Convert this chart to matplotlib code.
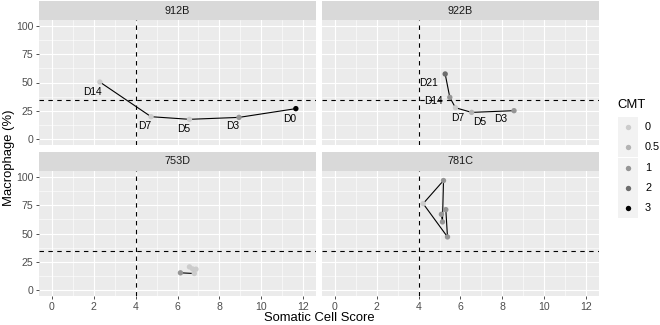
import matplotlib
matplotlib.use("Agg")
import matplotlib.pyplot as plt
from matplotlib.patches import Rectangle

plt.rcParams['font.family'] = ['Liberation Sans', 'DejaVu Sans']

# ---- data ----
cows = ["912B", "922B", "753D", "781C"]

scs_912B = [2.30, 4.74, 6.57, 8.93, 11.64]
mac_912B = [50.4, 19.9, 17.6, 19.3, 27.0]
cmt_912B = [0, 0, 0, 1, 3]
day_912B = ["D14", "D7", "D5", "D3", "D0"]

scs_922B = [5.27, 5.49, 5.76, 6.53, 8.55]
mac_922B = [57.5, 36.9, 27.8, 23.7, 25.2]
cmt_922B = [2, 1, 0, 0.5, 1]
day_922B = ["D21", "D14", "D7", "D5", "D3"]

scs_753D = [6.14, 6.80, 6.72, 6.57, 6.88]
mac_753D = [15.4, 14.8, 18.8, 20.6, 18.6]
cmt_753D = [1, 0, 0, 0, 0]

scs_781C = [5.09, 5.14, 5.19, 4.22, 5.38, 5.30]
mac_781C = [66.9, 60.2, 96.6, 76.3, 47.0, 71.0]
cmt_781C = [1, 1, 1, 0, 1, 1]

cmt_levels = [0, 0.5, 1, 2, 3]
cmt_labels = ["0", "0.5", "1", "2", "3"]

scs_cut = 4
mac_cut = 35

# label nudges in pixels (dx, dy down), ggrepel-ish placement
nudge_912B = [(-7, 10), (-6, 9), (-6, 10), (-6, 9), (-6, 10)]
nudge_922B = [(-17, 9), (-16, 4), (2, 10), (8, 10), (-13, 8)]

panels = {
    "912B": (scs_912B, mac_912B, cmt_912B, day_912B, nudge_912B),
    "922B": (scs_922B, mac_922B, cmt_922B, day_922B, nudge_922B),
    "753D": (scs_753D, mac_753D, cmt_753D, None, None),
    "781C": (scs_781C, mac_781C, cmt_781C, None, None),
}

# grey palette like scale_colour_grey(start=0.8, end=0)
grey_cols = ["#CCCCCC", "#B3B3B3", "#959595", "#6D6D6D", "#000000"]
cmt_col = dict(zip(cmt_levels, grey_cols))

W, H = 660, 325
fig = plt.figure(figsize=(W / 100, H / 100), dpi=100)


def px_axes(left, top, width, height):
    return fig.add_axes([left / W, 1 - (top + height) / H, width / W, height / H])


col_left = [39, 322]
row_top = [20, 171]
panel_w, panel_h, strip_h = 277, 125, 19
tick_col = "#4D4D4D"
dash = (0, (4, 4))

for i, cow in enumerate(cows):
    r, c = divmod(i, 2)
    scs, mac, cmt, days, nudge = panels[cow]

    ax = px_axes(col_left[c], row_top[r], panel_w, panel_h)
    ax.set_facecolor("#EBEBEB")
    for s in ax.spines.values():
        s.set_visible(False)
    ax.set_xlim(-0.6, 12.6)
    ax.set_ylim(-5, 105)
    ax.set_xticks(range(0, 13, 2))
    ax.set_xticks(range(1, 12, 2), minor=True)
    ax.set_yticks([0, 25, 50, 75, 100])
    ax.set_yticks([12.5, 37.5, 62.5, 87.5], minor=True)
    ax.grid(which="major", color="white", lw=0.8)
    ax.grid(which="minor", color="white", lw=0.4)
    ax.set_axisbelow(True)
    ax.tick_params(which="minor", length=0)
    ax.tick_params(which="major", length=2.5, width=0.6, color="#333333",
                   labelsize=7.6, labelcolor=tick_col, pad=1.5,
                   left=(c == 0), labelleft=(c == 0),
                   bottom=(r == 1), labelbottom=(r == 1))

    ax.axvline(scs_cut, color="black", lw=0.8, ls=dash, zorder=2)
    ax.axhline(mac_cut, color="black", lw=0.8, ls=dash, zorder=2)

    ax.plot(scs, mac, color="black", lw=0.8, zorder=3)
    ax.scatter(scs, mac, s=15, c=[cmt_col[v] for v in cmt], lw=0, zorder=4)

    if days is not None:
        for x, y, lab, (dx, dy) in zip(scs, mac, days, nudge):
            ax.annotate(lab, (x, y), xytext=(dx, -dy), textcoords="offset pixels",
                        ha="center", va="center", fontsize=7.4, color="black", zorder=5)

    # facet strip
    sax = px_axes(col_left[c], row_top[r] - strip_h, panel_w, strip_h)
    sax.set_facecolor("#D9D9D9")
    sax.set_xticks([])
    sax.set_yticks([])
    for s in sax.spines.values():
        s.set_visible(False)
    sax.text(0.5, 0.5, cow, ha="center", va="center", fontsize=7.8,
             color="#1A1A1A", transform=sax.transAxes)

# axis titles
fig.text(319 / W, 1 - 318 / H, "Somatic Cell Score", ha="center", va="center", fontsize=9.4)
fig.text(9 / W, 1 - 158 / H, "Macrophage (%)", ha="center", va="center",
         rotation=90, fontsize=9.4)

# legend drawn by hand (ggplot style keys)
lax = fig.add_axes([0, 0, 1, 1], facecolor="none")
lax.set_xlim(0, W)
lax.set_ylim(H, 0)
lax.axis("off")
lax.text(617, 105, "CMT", ha="left", va="center", fontsize=9.4)
for k, (lev, lab) in enumerate(zip(cmt_levels, cmt_labels)):
    yc = 127 + 20.3 * k
    lax.add_patch(Rectangle((618, yc - 10), 20, 20, facecolor="#F2F2F2", edgecolor="none"))
    lax.scatter([628], [yc], s=15, c=cmt_col[lev], lw=0)
    lax.text(645, yc, lab, ha="left", va="center", fontsize=7.8, color="black")

fig.savefig("out.png", dpi=100)
